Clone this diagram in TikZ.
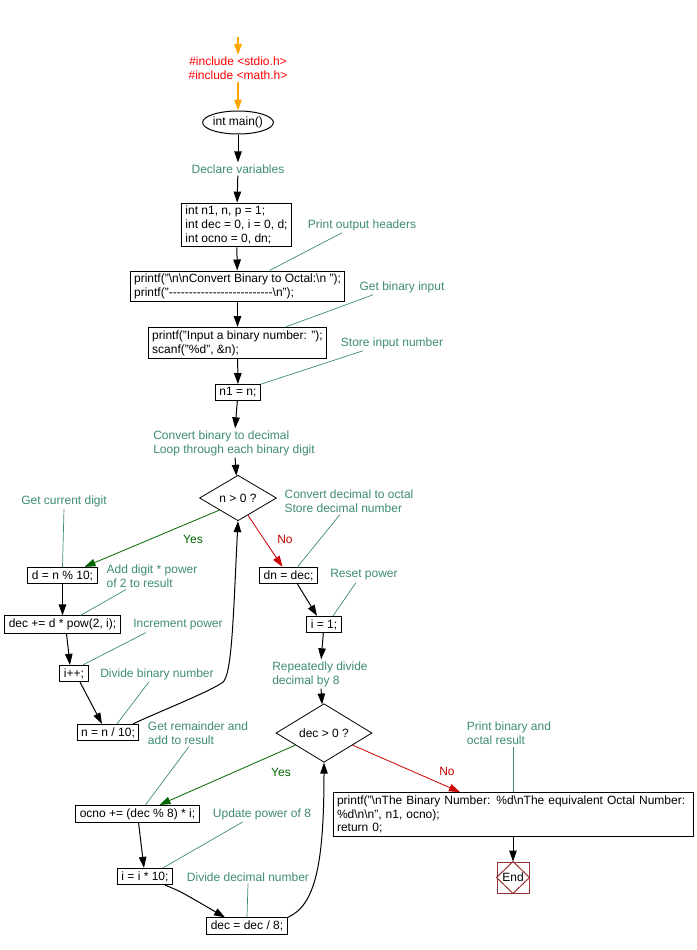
\documentclass[tikz,border=0pt]{standalone}
\usepackage{fontspec}
\setmainfont{Liberation Sans}
\usetikzlibrary{arrows.meta,shapes.geometric}

\definecolor{notegreen}{RGB}{61,140,110}
\definecolor{yesgreen}{RGB}{0,100,0}
\definecolor{nored}{RGB}{204,0,0}
\definecolor{endred}{RGB}{153,51,51}
\definecolor{incorange}{RGB}{255,165,0}

% row of plain hyphens (no dash ligatures)
\newcommand{\dashrow}{\foreach \k in {1,...,26}{-\kern0pt}}
\newcommand{\bs}{\textbackslash}

\begin{document}
\begin{tikzpicture}[x=1pt, y=-1pt,
  font=\fontsize{12}{13.8}\selectfont,
  box/.style={draw, line width=1pt, inner xsep=4pt, inner ysep=3pt, align=left},
  cond/.style={diamond, draw, line width=0.8pt, inner sep=0pt},
  note/.style={text=notegreen, align=left, inner sep=2pt},
  flow/.style={line width=1pt, -{Triangle[length=11pt,width=7.5pt]}},
  noteline/.style={notegreen, line width=0.7pt}]
\useasboundingbox (0,0) rectangle (696,950);

% Header
\coordinate (start) at (238,37);
\node[text=red, align=center, inner sep=2pt] (incl) at (238,68.5) {\#include <stdio.h>\\\#include <math.h>};
\node[ellipse, draw, line width=1pt, minimum width=66pt, minimum height=23pt, inner sep=0pt] (main) at (238,122.5) {int main()};
\draw[flow, incorange, line width=1.6pt] (start) -- (incl);
\draw[flow, incorange, line width=1.6pt] (incl) -- (main);

% Setup
\node[note] (decl) at (238,169) {Declare variables};
\node[box] (vars) at (236.5,225) {int n1, n, p = 1;\\int dec = 0, i = 0, d;\\int ocno = 0, dn;};
\node[box] (head) at (237.5,286.5) {printf("\bs n\bs nConvert Binary to Octal:\bs n ");\\printf("\dashrow\bs n");};
\node[box] (read) at (237.5,343) {printf("Input a binary number: ");\\scanf("\%d", \&n);};
\node[box] (keep) at (238,392.5) {n1 = n;};
\node[note] (bin) at (234,443) {Convert binary to decimal\\Loop through each binary digit};
\draw[flow] (main) -- (decl);
\draw[flow] (decl) -- (vars);
\draw[flow] (vars) -- (head);
\draw[flow] (head) -- (read);
\draw[flow] (read) -- (keep);
\draw[flow] (keep) -- (bin);

\node[note] (hdrnote) at (362,225) {Print output headers};
\node[note] (inpnote) at (402,287) {Get binary input};
\node[note] (stonote) at (392,343) {Store input number};
\draw[noteline] ([xshift=-20pt]hdrnote.south) -- ([xshift=32pt]head.north);
\draw[noteline] ([xshift=-29pt]inpnote.south) -- ([xshift=48pt]read.north);
\draw[noteline] ([xshift=-29pt]stonote.south) -- (keep.north east);

% Binary to decimal loop
\node[cond, minimum width=77pt, minimum height=32pt] (bloop) at (238,498) {n > 0 ?};
\node[box] (digit) at (62.5,575.5) {d = n \% 10;};
\node[box] (addd) at (62.5,624.5) {dec += d * pow(2, i);};
\node[box] (incp) at (74,673.5) {i++;};
\node[box] (divn) at (108,732.5) {n = n / 10;};
\draw[flow] (bin) -- (bloop);
\draw[flow, yesgreen, line width=0.8pt] (bloop.213) -- ([xshift=22pt]digit.north);
\node[text=yesgreen] (yes1) at (193,539) {Yes};
\draw[flow] (digit) -- (addd);
\draw[flow] ([xshift=4pt]addd.south) -- ([xshift=-4pt]incp.north);
\draw[flow] ([xshift=6pt]incp.south) -- ([xshift=-6pt]divn.north);
\coordinate (bend1) at (222,683);
\draw[flow] ([xshift=25pt]divn.north) .. controls +(30,-14) and +(-20,12) .. (bend1)
  .. controls +(10,-6) and +(-5,100) .. (bloop.south);

\node[note] (getnote) at (64,501) {Get current digit};
\node[note] (addnote) at (152,576) {Add digit * power\\of 2 to result};
\node[note] (incnote) at (178,625) {Increment power};
\node[note] (divbnote) at (157,674) {Divide binary number};
\draw[noteline] (getnote.south) -- (digit.north);
\draw[noteline] ([xshift=-26pt]addnote.south) -- ([xshift=18pt]addd.north);
\draw[noteline] ([xshift=-32pt]incnote.south) -- ([xshift=9pt]incp.north);
\draw[noteline] ([xshift=-8pt]divbnote.south) -- ([xshift=9pt]divn.north);

% Decimal to octal
\node[box] (copy) at (288.5,575.5) {dn = dec;};
\node[box] (reset) at (324,624.5) {i = 1;};
\node[note] (rep) at (320,674) {Repeatedly divide\\decimal by 8};
\draw[flow, nored, line width=0.8pt] (bloop.-60) -- ([xshift=-6pt]copy.north);
\node[text=nored] (no1) at (285,539) {No};
\draw[flow] ([xshift=9pt]copy.south) -- ([xshift=-7pt]reset.north);
\draw[flow] (reset) -- (rep);

\node[note] (cdonote) at (349,501) {Convert decimal to octal\\Store decimal number};
\node[note] (rstnote) at (364,575) {Reset power};
\draw[noteline] ([xshift=-9pt]cdonote.south) -- ([xshift=9pt]copy.north);
\draw[noteline] ([xshift=-8pt]rstnote.south) -- ([xshift=9pt]reset.north);

% Octal loop
\node[cond, minimum width=96pt, minimum height=37pt] (oloop) at (324,733) {dec > 0 ?};
\node[box] (rem) at (137.5,814) {ocno += (dec \% 8) * i;};
\node[box] (mul) at (145,876.5) {i = i * 10;};
\node[box] (div8) at (247,926) {dec = dec / 8;};
\draw[flow] (rep) -- (oloop);
\draw[flow, yesgreen, line width=0.8pt] (oloop.203) -- ([xshift=22pt]rem.north);
\node[text=yesgreen] (yes2) at (281,772) {Yes};
\draw[flow] (rem) -- (mul);
\draw[flow] ([xshift=20pt]mul.south) .. controls +(15,6) .. ([xshift=-22pt]div8.north);
\draw[flow] (div8.north east) .. controls +(28,-12) and +(0,100) .. (oloop.south);

\node[note] (remnote) at (198,733) {Get remainder and\\add to result};
\node[note] (updnote) at (262,814) {Update power of 8};
\node[note] (divdnote) at (248,877) {Divide decimal number};
\draw[noteline] ([xshift=-9pt]remnote.south) -- ([xshift=8pt]rem.north);
\draw[noteline] ([xshift=-19pt]updnote.south) -- ([xshift=18pt]mul.north);
\draw[noteline] (divdnote.south) -- (div8.north);

% Result
\node[box, text width=352pt] (out) at (513,814.5) {printf("\bs nThe Binary Number: \%d\bs nThe equivalent Octal Number:\\\%d\bs n\bs n", n1, ocno);\\return 0;};
\node[draw=endred, line width=1pt, minimum width=32pt, minimum height=31pt, inner sep=0pt] (stop) at (513,877.5) {End};
\draw[endred, line width=1pt] (stop.north) -- (stop.east) -- (stop.south) -- (stop.west) -- cycle;
\draw[flow, nored, line width=0.8pt] (oloop.-23) -- ([xshift=-53pt]out.north);
\node[text=nored] (no2) at (447,771) {No};
\draw[flow] (out) -- (stop);

\node[note] (prtnote) at (509,733) {Print binary and\\octal result};
\draw[noteline] ([xshift=4pt]prtnote.south) -- (out.north);
\end{tikzpicture}
\end{document}
